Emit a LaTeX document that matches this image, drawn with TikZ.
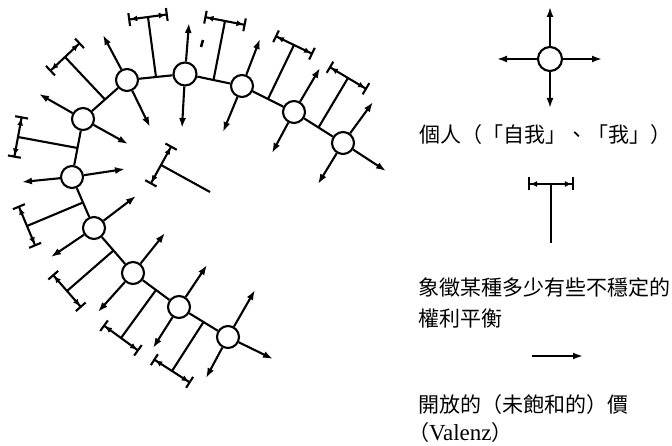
\documentclass[tikz,border=0pt]{standalone}
\usepackage{fontspec}
\setmainfont{Liberation Serif}
\newfontfamily\cjk{Noto Sans CJK TC}
\usetikzlibrary{arrows.meta,calc}
\begin{document}
\begin{tikzpicture}[x=1pt,y=-1pt,line width=2.1pt,
  person/.style={circle,draw,fill=white,minimum size=22pt,inner sep=0pt},
  valenz/.style={-{Latex[length=10pt,width=7pt]}},
  balance/.style={{Bar[width=13pt]Latex[length=7pt,width=6pt]}-{Latex[length=7pt,width=6pt]Bar[width=13pt]}},
  legend/.style={anchor=west,inner sep=0pt,align=left,font=\cjk\fontsize{21}{31}\selectfont}]
\useasboundingbox (0,0) rectangle (672,446);
% the persons
\node[person] (p1) at (228,337) {};
\node[person] (p2) at (179,307) {};
\node[person] (p3) at (133,273) {};
\node[person] (p4) at (94,228) {};
\node[person] (p5) at (72,177) {};
\node[person] (p6) at (83,119) {};
\node[person] (p7) at (127,80) {};
\node[person,minimum size=23pt] (p8) at (185,74) {};
\node[person] (p9) at (242,86) {};
\node[person] (p10) at (294,112) {};
\node[person] (p11) at (343,143) {};
\draw (p1) -- (p2) -- (p3) -- (p4) -- (p5) -- (p6) -- (p7) -- (p8) -- (p9) -- (p10) -- (p11);
% open valences
\coordinate (p1a) at (255,290);
\coordinate (p1b) at (206,378);
\coordinate (p1c) at (273,359);
\coordinate (p2a) at (207,265);
\coordinate (p2b) at (153,348);
\coordinate (p3a) at (165,233);
\coordinate (p3b) at (98,312);
\coordinate (p4a) at (136,196);
\coordinate (p4b) at (51,257);
\coordinate (p5a) at (125,169);
\coordinate (p5b) at (22,182);
\coordinate (p6a) at (39,94);
\coordinate (p6b) at (128,144);
\coordinate (p7a) at (103,35);
\coordinate (p7b) at (150,127);
\coordinate (p8a) at (189,23);
\coordinate (p8b) at (182,128);
\coordinate (p9a) at (260,39);
\coordinate (p9b) at (223,132);
\coordinate (p10a) at (320,68);
\coordinate (p10b) at (272,153);
\coordinate (p11a) at (373,102);
\coordinate (p11b) at (318,184);
\coordinate (p11c) at (386,171);
\draw[valenz] (p1) -- (p1a);
\draw[valenz] (p1) -- (p1b);
\draw[valenz] (p1) -- (p1c);
\draw[valenz] (p2) -- (p2a);
\draw[valenz] (p2) -- (p2b);
\draw[valenz] (p3) -- (p3a);
\draw[valenz] (p3) -- (p3b);
\draw[valenz] (p4) -- (p4a);
\draw[valenz] (p4) -- (p4b);
\draw[valenz] (p5) -- (p5a);
\draw[valenz] (p5) -- (p5b);
\draw[valenz] (p6) -- (p6a);
\draw[valenz] (p6) -- (p6b);
\draw[valenz] (p7) -- (p7a);
\draw[valenz] (p7) -- (p7b);
\draw[valenz] (p8) -- (p8a);
\draw[valenz] (p8) -- (p8b);
\draw[valenz] (p9) -- (p9a);
\draw[valenz] (p9) -- (p9b);
\draw[valenz] (p10) -- (p10a);
\draw[valenz] (p10) -- (p10b);
\draw[valenz] (p11) -- (p11a);
\draw[valenz] (p11) -- (p11b);
\draw[valenz] (p11) -- (p11c);
% balances of rights
\coordinate (m12) at ($(p1)!0.5!(p2)$);
\coordinate (t12) at (172,371);
\coordinate (m23) at ($(p2)!0.5!(p3)$);
\coordinate (t23) at (121,338);
\coordinate (m34) at ($(p3)!0.5!(p4)$);
\coordinate (t34) at (67,291);
\coordinate (m45) at ($(p4)!0.5!(p5)$);
\coordinate (t45) at (27,226);
\coordinate (m56) at ($(p5)!0.5!(p6)$);
\coordinate (t56) at (18,137);
\coordinate (m67) at ($(p6)!0.5!(p7)$);
\coordinate (t67) at (65,57);
\coordinate (m78) at ($(p7)!0.5!(p8)$);
\coordinate (t78) at (148,17);
\coordinate (m89) at ($(p8)!0.5!(p9)$);
\coordinate (t89) at (225,21);
\coordinate (m910) at ($(p9)!0.5!(p10)$);
\coordinate (t910) at (294,45);
\coordinate (m1011) at ($(p10)!0.5!(p11)$);
\coordinate (t1011) at (348,78);
\coordinate (m0) at (210,192);
\coordinate (t0) at (161,165);
\draw (m12) -- (t12);
\draw[balance] ($(t12)!22pt!90:(m12)$) -- ($(t12)!22pt!-90:(m12)$);
\draw (m23) -- (t23);
\draw[balance] ($(t23)!22pt!90:(m23)$) -- ($(t23)!22pt!-90:(m23)$);
\draw (m34) -- (t34);
\draw[balance] ($(t34)!22pt!90:(m34)$) -- ($(t34)!22pt!-90:(m34)$);
\draw (m45) -- (t45);
\draw[balance] ($(t45)!22pt!90:(m45)$) -- ($(t45)!22pt!-90:(m45)$);
\draw (m56) -- (t56);
\draw[balance] ($(t56)!21pt!90:(m56)$) -- ($(t56)!21pt!-90:(m56)$);
\draw (m67) -- (t67);
\draw[balance] ($(t67)!21pt!90:(m67)$) -- ($(t67)!21pt!-90:(m67)$);
\draw (m78) -- (t78);
\draw[balance] ($(t78)!20pt!90:(m78)$) -- ($(t78)!20pt!-90:(m78)$);
\draw (m89) -- (t89);
\draw[balance] ($(t89)!21pt!90:(m89)$) -- ($(t89)!21pt!-90:(m89)$);
\draw (m910) -- (t910);
\draw[balance] ($(t910)!21pt!90:(m910)$) -- ($(t910)!21pt!-90:(m910)$);
\draw (m1011) -- (t1011);
\draw[balance] ($(t1011)!22pt!90:(m1011)$) -- ($(t1011)!22pt!-90:(m1011)$);
\draw (m0) -- (t0);
\draw[balance] ($(t0)!22pt!90:(m0)$) -- ($(t0)!22pt!-90:(m0)$);
\draw[line width=2.6pt] (203,40) -- (201,47);
% legend
\node[person,minimum size=24pt] (lc) at (550,59) {};
\coordinate (lca) at (550,7);
\coordinate (lcb) at (550,108);
\coordinate (lcc) at (497,59);
\coordinate (lcd) at (602,59);
\draw[valenz] (lc) -- (lca);
\draw[valenz] (lc) -- (lcb);
\draw[valenz] (lc) -- (lcc);
\draw[valenz] (lc) -- (lcd);
\node[legend] (lperson) at (418,135) {個人（「自我」、「我」）};
\coordinate (lt) at (551,184);
\coordinate (lb) at (551,243);
\draw (lt) -- (lb);
\draw[balance] (528,184) -- (574,184);
\node[legend] (lbalance) at (417,302.5) {象徵某種多少有些不穩定的\\權利平衡};
\coordinate (la) at (532,356);
\coordinate (lz) at (583,356);
\draw[valenz] (la) -- (lz);
\node[legend] (lvalenz) at (417,419) {開放的（未飽和的）價\\[-3pt]\hspace*{-10pt}（{\rmfamily\fontsize{23}{29}\selectfont Valenz}）};
\end{tikzpicture}
\end{document}
